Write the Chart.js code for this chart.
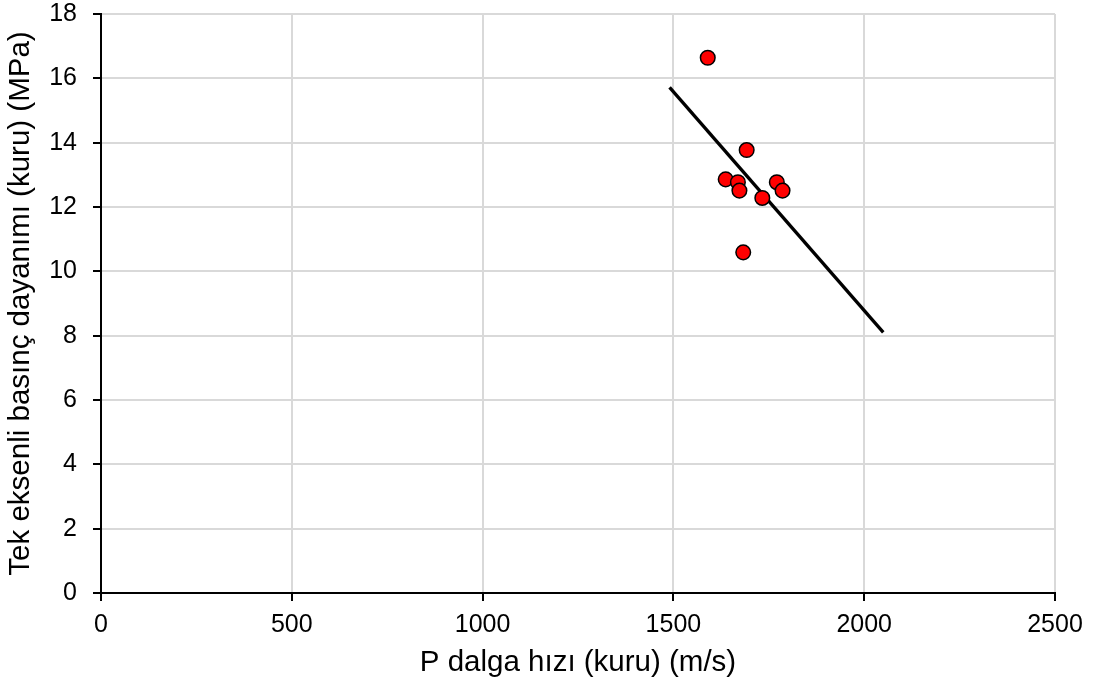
<!DOCTYPE html>
<html>
<head>
    <title>P dalga hızı - basınç dayanımı</title>
    <script src="https://cdn.jsdelivr.net/npm/chart.js"></script>
    <style>
        html, body { margin: 0; padding: 0; background: #fff; }
        #wrap { width: 1105px; height: 688px; }
    </style>
</head>
<body>
    <div id="wrap"><canvas id="vpChart"></canvas></div>

    <script>
        // Ölçüm verileri (kuru numuneler)
        const pHizi = [1590, 1692, 1637, 1669, 1673, 1733, 1771, 1786, 1683];
        const dayanim = [16.64, 13.77, 12.86, 12.77, 12.51, 12.28, 12.77, 12.51, 10.59];

        // Doğrusal eğilim çizgisinin uç noktaları
        const egilimX = [1490, 2050];
        const egilimY = [15.72, 8.10];

        const xTicks = [0, 500, 1000, 1500, 2000, 2500];
        const yTicks = [0, 2, 4, 6, 8, 10, 12, 14, 16, 18];

        const yazi = "'Liberation Sans', Arial, sans-serif";

        const ctx = document.getElementById('vpChart').getContext('2d');
        const vpChart = new Chart(ctx, {
            type: 'scatter',
            data: {
                datasets: [{
                    label: 'Eğilim',
                    type: 'line',
                    data: egilimX.map((x, i) => ({ x: x, y: egilimY[i] })),
                    borderColor: '#000',
                    borderWidth: 3.3,
                    pointRadius: 0,
                    fill: false,
                    order: 2
                }, {
                    label: 'Kuru',
                    data: pHizi.map((x, i) => ({ x: x, y: dayanim[i] })),
                    backgroundColor: '#ff0000',
                    borderColor: '#000',
                    borderWidth: 1.5,
                    pointRadius: 7.3,
                    order: 1
                }]
            },
            options: {
                responsive: true,
                maintainAspectRatio: false,
                animation: false,
                layout: { padding: { top: 14, right: 50, left: 0, bottom: 0 } },
                plugins: {
                    legend: { display: false },
                    tooltip: { enabled: false }
                },
                scales: {
                    x: {
                        type: 'linear',
                        min: 0,
                        max: 2500,
                        afterBuildTicks: (ax) => { ax.ticks = xTicks.map(v => ({ value: v })); },
                        afterFit: (ax) => { ax.height = 95; },
                        grid: { color: '#d9d9d9', lineWidth: 2, tickColor: '#000', tickLength: 8 },
                        border: { color: '#000', width: 2 },
                        ticks: {
                            color: '#000',
                            font: { family: yazi, size: 25 },
                            padding: 9,
                            maxRotation: 0,
                            callback: (v) => String(v)
                        },
                        title: {
                            display: true,
                            text: 'P dalga hızı (kuru) (m/s)',
                            color: '#000',
                            font: { family: yazi, size: 29.5 },
                            padding: { top: 0, bottom: 7 }
                        }
                    },
                    y: {
                        type: 'linear',
                        min: 0,
                        max: 18,
                        afterBuildTicks: (ax) => { ax.ticks = yTicks.map(v => ({ value: v })); },
                        afterFit: (ax) => {
                            ax.width = 101;
                            // üst kenarı sabit bırak, etiket payı ekleme
                            ax.paddingTop = 0;
                            ax.paddingBottom = 0;
                        },
                        grid: { color: '#d9d9d9', lineWidth: 2, tickColor: '#000', tickLength: 8 },
                        border: { color: '#000', width: 2 },
                        ticks: { color: '#000', font: { family: yazi, size: 25 }, padding: 16 },
                        title: {
                            display: true,
                            text: 'Tek eksenli basınç dayanımı (kuru) (MPa)',
                            color: '#000',
                            font: { family: yazi, size: 29.5 },
                            padding: { top: 3, bottom: 0 }
                        }
                    }
                }
            }
        });
    </script>
</body>
</html>
